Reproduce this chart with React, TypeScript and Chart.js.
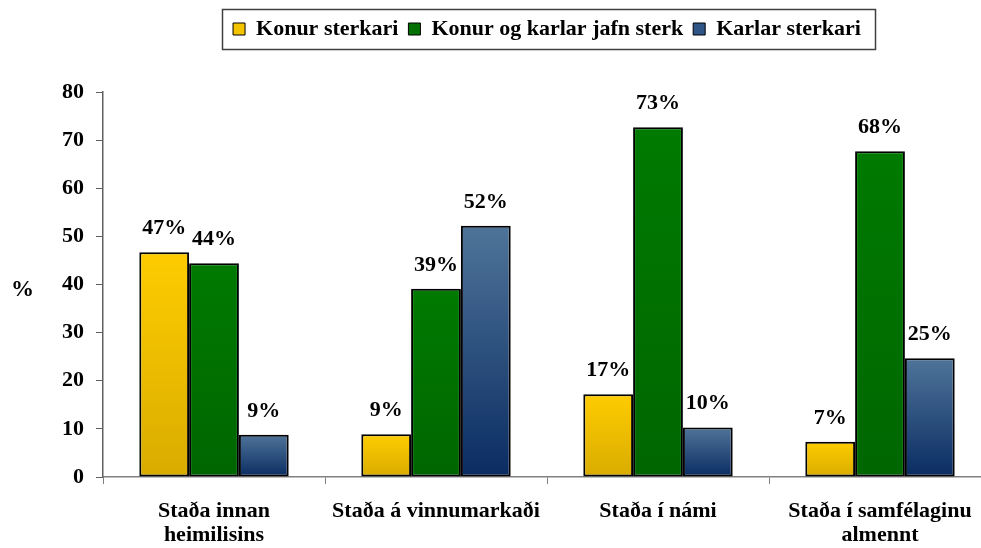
import React, { useEffect, useRef } from 'react';
import { Chart, registerables } from 'chart.js';

Chart.register(...registerables);

const categories: string[][] = [
  ['Staða innan', 'heimilisins'],
  ['Staða á vinnumarkaði'],
  ['Staða í námi'],
  ['Staða í samfélaginu', 'almennt'],
];
const seriesNames = ['Konur sterkari', 'Konur og karlar jafn sterk', 'Karlar sterkari'];
const womenStronger = [46.7, 8.9, 17.2, 7.3];
const equallyStrong = [44.4, 39.1, 72.7, 67.7];
const menStronger = [8.8, 52.2, 10.3, 24.7];
const yMin = 0;
const yMax = 80;
const yStep = 10;
const yAxisTitle = '%';

const gradientStops: string[][] = [
  ['#FFCC00', '#D8AC00'],
  ['#007A00', '#006600'],
  ['#4F7499', '#0A2C62'],
];
const swatchColors = ['#F5C400', '#007000', '#2E5586'];

const FONT = '"Liberation Serif", "Times New Roman", serif';

function makeBg(series: number) {
  return (ctx: any) => {
    const chart = ctx.chart;
    const { chartArea, scales } = chart;
    if (!chartArea || !scales || !scales.y || ctx.type !== 'data') return swatchColors[series];
    const top = scales.y.getPixelForValue(ctx.raw);
    const bottom = scales.y.getPixelForValue(0);
    if (!isFinite(top) || !isFinite(bottom) || top === bottom) return swatchColors[series];
    const g = chart.ctx.createLinearGradient(0, top, 0, bottom);
    g.addColorStop(0, gradientStops[series][0]);
    g.addColorStop(1, gradientStops[series][1]);
    return g;
  };
}

const extrasPlugin = {
  id: 'extras',
  beforeLayout(chart: any) {
    const lg = chart.legend;
    if (lg && !lg.__patched) {
      const orig = lg.fit;
      lg.fit = function () {
        orig.call(this);
        this.height += 42;
      };
      lg.__patched = true;
    }
  },
  afterDraw(chart: any) {
    const c = chart.ctx;
    c.save();
    // legend border
    const hb = chart.legend && chart.legend.legendHitBoxes;
    if (hb && hb.length) {
      const left = hb[0].left - 11;
      const last = hb[hb.length - 1];
      const right = last.left + last.width + 14;
      c.strokeStyle = '#404040';
      c.lineWidth = 1.5;
      c.strokeRect(Math.round(left) + 0.5, 9.5, Math.round(right - left), 40);
    }
    // data labels
    c.fillStyle = '#000';
    c.font = `bold 22px ${FONT}`;
    c.textAlign = 'center';
    c.textBaseline = 'alphabetic';
    chart.data.datasets.forEach((ds: any, di: number) => {
      const meta = chart.getDatasetMeta(di);
      meta.data.forEach((bar: any, i: number) => {
        const v = ds.data[i];
        c.fillText(`${Math.round(v)}%`, bar.x, bar.y - 18);
      });
    });
    // y axis title (horizontal)
    c.font = `bold 23px ${FONT}`;
    c.fillText(yAxisTitle, 22.5, 296);
    c.restore();
  },
};

export default function App() {
  const ref = useRef<HTMLCanvasElement>(null);
  useEffect(() => {
    if (!ref.current) return;
    const datasets = [womenStronger, equallyStrong, menStronger].map((data, s) => ({
      label: seriesNames[s],
      data,
      backgroundColor: makeBg(s),
      borderColor: '#000',
      borderWidth: 2,
      borderSkipped: false as const,
      categoryPercentage: 0.673,
      barPercentage: 1.0,
    }));
    const chart = new Chart(ref.current, {
      type: 'bar',
      data: { labels: categories as any, datasets },
      options: {
        responsive: false,
        animation: false,
        layout: { padding: { top: 8, left: 0, right: 0, bottom: 0 } },
        plugins: {
          tooltip: { enabled: false },
          legend: {
            display: true,
            position: 'top',
            fullSize: false,
            align: 'center',
            labels: {
              boxWidth: 12,
              boxHeight: 12,
              padding: 10,
              color: '#000',
              font: { family: FONT, size: 22, weight: 'bold' },
              generateLabels: (ch: any) =>
                ch.data.datasets.map((ds: any, i: number) => ({
                  text: ds.label,
                  fillStyle: swatchColors[i],
                  strokeStyle: '#000',
                  lineWidth: 1,
                  hidden: false,
                  datasetIndex: i,
                  fontColor: '#000',
                })),
            },
          },
        },
        scales: {
          x: {
            grid: {
              display: true,
              drawOnChartArea: false,
              drawTicks: true,
              tickLength: 7,
              color: '#808080',
              offset: true,
            },
            border: { display: true, color: '#808080', width: 1.5 },
            ticks: {
              color: '#000',
              padding: 15,
              maxRotation: 0,
              autoSkip: false,
              font: { family: FONT, size: 22, weight: 'bold', lineHeight: 1.1 },
            },
            afterFit: (s: any) => {
              s.height = 71;
            },
          },
          y: {
            min: yMin,
            max: yMax,
            ticks: {
              stepSize: yStep,
              color: '#000',
              padding: 12,
              font: { family: FONT, size: 22, weight: 'bold' },
            },
            grid: {
              display: true,
              drawOnChartArea: false,
              drawTicks: true,
              tickLength: 7,
              color: '#606060',
            },
            border: { display: true, color: '#606060', width: 1.5 },
            afterFit: (s: any) => {
              s.width = 103;
            },
          },
        },
      },
      plugins: [extrasPlugin],
    });
    return () => chart.destroy();
  }, []);
  return (
    <div
      style={{
        position: 'fixed',
        left: 0,
        top: 0,
        width: 981,
        height: 548,
        overflow: 'hidden',
        background: '#fff',
      }}
    >
      <canvas ref={ref} width={991} height={548} style={{ display: 'block' }} />
    </div>
  );
}
